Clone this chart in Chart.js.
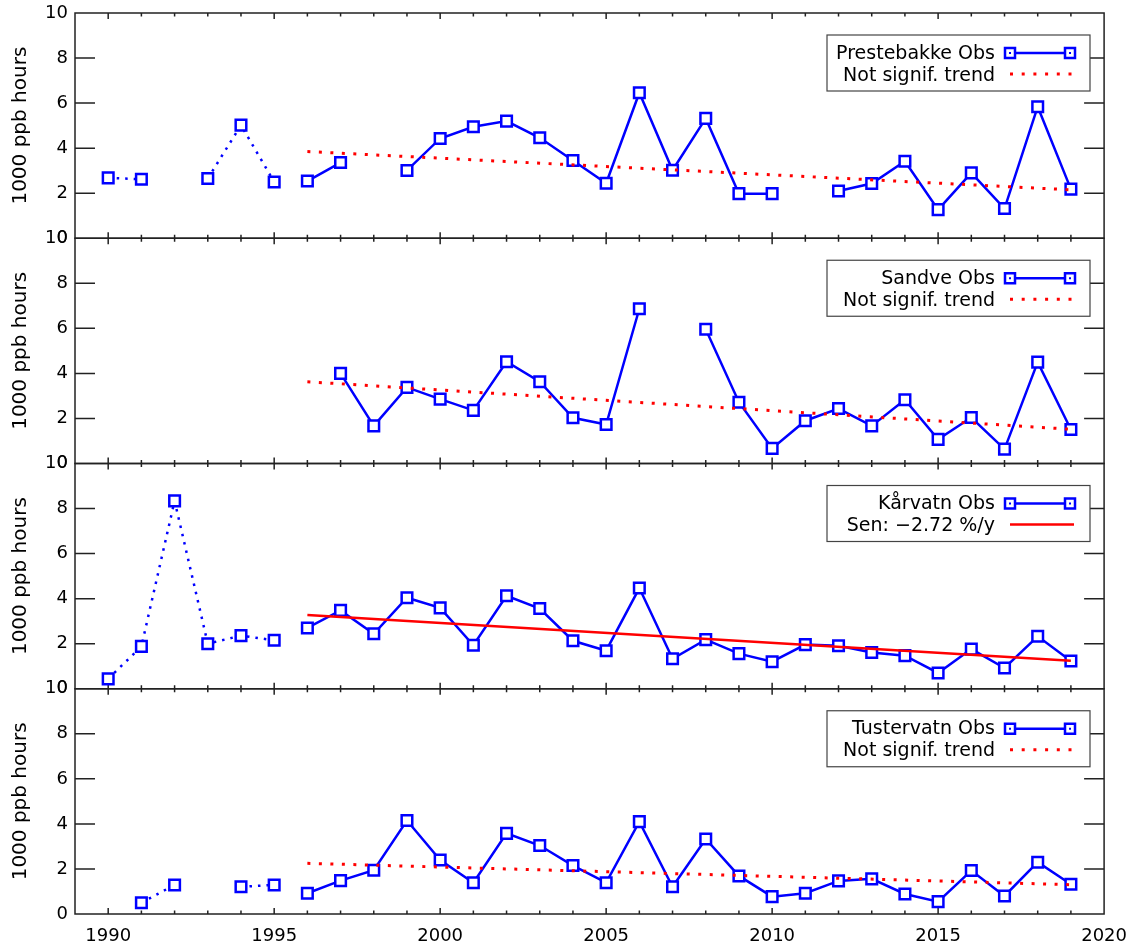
<!DOCTYPE html>
<html>
<head>
<meta charset="utf-8">
<script src="https://cdn.jsdelivr.net/npm/chart.js@4.4.1/dist/chart.umd.min.js"></script>
<style>
body{margin:0;background:#fff;}
canvas{display:block;}
</style>
</head>
<body>
<canvas id="grafico" width="1139" height="950"></canvas>
<script>
// years and values (1000 ppb hours), null = no data
var years=[1990,1991,1992,1993,1994,1995,1996,1997,1998,1999,2000,2001,2002,2003,2004,
           2005,2006,2007,2008,2009,2010,2011,2012,2013,2014,2015,2016,2017,2018,2019];
var prestebakke=[2.68,2.62,null,2.65,5.02,2.50,2.54,3.36,null,3.01,4.43,4.95,5.20,4.46,3.45,
                 2.44,6.46,3.02,5.32,1.98,1.98,null,2.10,2.43,3.42,1.27,2.90,1.32,5.84,2.18];
var sandve=[null,null,null,null,null,null,null,4.00,1.67,3.38,2.86,2.36,4.52,3.63,2.03,
            1.73,6.87,null,5.96,2.72,0.67,1.90,2.44,1.67,2.83,1.07,2.04,0.64,4.50,1.51];
var karvatn=[0.44,1.88,8.34,2.00,2.36,2.15,2.70,3.48,2.44,4.04,3.59,1.93,4.13,3.56,2.13,
             1.69,4.47,1.33,2.18,1.56,1.20,1.96,1.91,1.61,1.47,0.70,1.76,0.92,2.33,1.23];
var tustervatn=[null,0.50,1.29,null,1.21,1.29,0.92,1.48,1.94,4.15,2.40,1.39,3.58,3.04,2.15,
                1.39,4.10,1.21,3.33,1.69,0.77,0.92,1.47,1.56,0.89,0.55,1.93,0.80,2.30,1.32];

var stations=["Prestebakke","Sandve","Kårvatn","Tustervatn"];
var series=[prestebakke,sandve,karvatn,tustervatn];
// trend line end values at 1996 and 2019
var trendYears=[1996,2019];
var trendStart=[3.85,3.63,3.27,2.25];
var trendEnd=[2.15,1.52,1.24,1.30];
var trendLabels=["Not signif. trend","Not signif. trend","Sen: \u22122.72 %/y","Not signif. trend"];
var trendSignif=[false,false,true,false];
var splitYear=1996;
var yTicks=[0,2,4,6,8,10];

var BLUE="#0000ff", RED="#ff0000";
Chart.defaults.font.family="DejaVu Sans";
Chart.defaults.color="#000";

var datasets=[];
var scales={
  x:{type:"linear",min:1989,max:2020,
     ticks:{stepSize:5,includeBounds:false,padding:12,autoSkip:false,maxRotation:0,
            font:{size:18},callback:function(v){return String(v);}},
     grid:{display:false,drawTicks:false},border:{display:false},
     afterFit:function(s){s.height=36;}}
};

for(var i=0;i<4;i++){
  var vals=series[i];
  var early=[], obs=[];
  for(var j=0;j<years.length;j++){
    if(years[j]<splitYear) early.push({x:years[j],y:vals[j]});
    else obs.push({x:years[j],y:vals[j]});
  }
  var yid="y"+i;
  scales[yid]={type:"linear",position:"left",stack:"panels",stackWeight:1,weight:4-i,
    min:yTicks[0],max:yTicks[yTicks.length-1],
    ticks:{stepSize:2,padding:7,autoSkip:false,font:{size:18}},
    grid:{display:false,drawTicks:false},border:{display:false},
    title:{display:true,text:"1000 ppb hours",font:{size:20},padding:{top:9,bottom:0}},
    afterFit:function(s){s.width=75;s.paddingTop=0;s.paddingBottom=0;}};
  var pt={pointStyle:"rect",pointRadius:7.5,pointBorderWidth:2.5,pointBorderColor:BLUE,
          pointBackgroundColor:"#fff",borderColor:BLUE,borderWidth:2.5,spanGaps:false,
          yAxisID:yid,pointHoverRadius:7.5};
  datasets.push(Object.assign({label:stations[i]+" early",data:early,borderDash:[2.5,6]},pt));
  datasets.push({label:trendLabels[i],yAxisID:yid,
    data:[{x:trendYears[0],y:trendStart[i]},{x:trendYears[1],y:trendEnd[i]}],
    borderColor:RED,borderWidth:trendSignif[i]?2.5:3,
    borderDash:trendSignif[i]?[]:[3,8.5],pointRadius:0});
  datasets.push(Object.assign({label:stations[i]+" Obs",data:obs},pt));
}

var marcos={
  id:"marcos",
  beforeDatasetsDraw:function(chart){
    var ctx=chart.ctx, ca=chart.chartArea, xs=chart.scales.x;
    ctx.save();
    ctx.strokeStyle="#222";
    ctx.lineWidth=1.5;
    for(var i=0;i<4;i++){
      var s=chart.scales["y"+i];
      ctx.strokeRect(ca.left,s.top,ca.right-ca.left,s.bottom-s.top);
      ctx.beginPath();
      for(var yr=1990;yr<2020;yr++){
        var px=xs.getPixelForValue(yr), len=(yr%5==0)?6:3.5;
        ctx.moveTo(px,s.bottom);ctx.lineTo(px,s.bottom-len);
        ctx.moveTo(px,s.top);ctx.lineTo(px,s.top+len);
      }
      for(var k=1;k<yTicks.length-1;k++){
        var py=s.getPixelForValue(yTicks[k]);
        ctx.moveTo(ca.left,py);ctx.lineTo(ca.left+20,py);
        ctx.moveTo(ca.right,py);ctx.lineTo(ca.right-20,py);
      }
      ctx.stroke();
    }
    ctx.restore();
  },
  afterDraw:function(chart){
    var ctx=chart.ctx;
    ctx.save();
    for(var i=0;i<4;i++){
      var top=chart.scales["y"+i].top;
      var bx=827, by=top+22, bw=263, bh=56;
      ctx.fillStyle="#fff";
      ctx.fillRect(bx,by,bw,bh);
      ctx.strokeStyle="#444";ctx.lineWidth=1.2;ctx.setLineDash([]);
      ctx.strokeRect(bx,by,bw,bh);
      ctx.font="19px 'DejaVu Sans'";
      ctx.fillStyle="#000";ctx.textAlign="right";ctx.textBaseline="alphabetic";
      ctx.fillText(stations[i]+" Obs",995,top+45.5);
      ctx.fillText(trendLabels[i],995,top+67.5);
      // obs symbol
      var ly=top+40;
      ctx.strokeStyle=BLUE;ctx.lineWidth=2.5;
      ctx.beginPath();ctx.moveTo(1010,ly);ctx.lineTo(1070,ly);ctx.stroke();
      [1010,1070].forEach(function(cx){
        ctx.fillStyle="#fff";ctx.fillRect(cx-5,ly-5,10,10);
        ctx.strokeRect(cx-5,ly-5,10,10);
        ctx.fillStyle=BLUE;ctx.fillRect(cx-1,ly-1,2,2);
      });
      // trend symbol
      var ty=top+61;
      ctx.strokeStyle=RED;
      if(trendSignif[i]){ctx.lineWidth=2.5;ctx.setLineDash([]);}
      else{ctx.lineWidth=3;ctx.setLineDash([3,8.7]);}
      ctx.beginPath();ctx.moveTo(1010,ty);ctx.lineTo(1074,ty);ctx.stroke();
      ctx.setLineDash([]);
    }
    ctx.restore();
  }
};

new Chart(document.getElementById("grafico"),{
  type:"line",
  data:{datasets:datasets},
  options:{
    responsive:false,animation:false,
    layout:{padding:{top:13,right:34,bottom:0,left:0}},
    plugins:{legend:{display:false},tooltip:{enabled:false}},
    scales:scales
  },
  plugins:[marcos]
});
</script>
</body>
</html>
